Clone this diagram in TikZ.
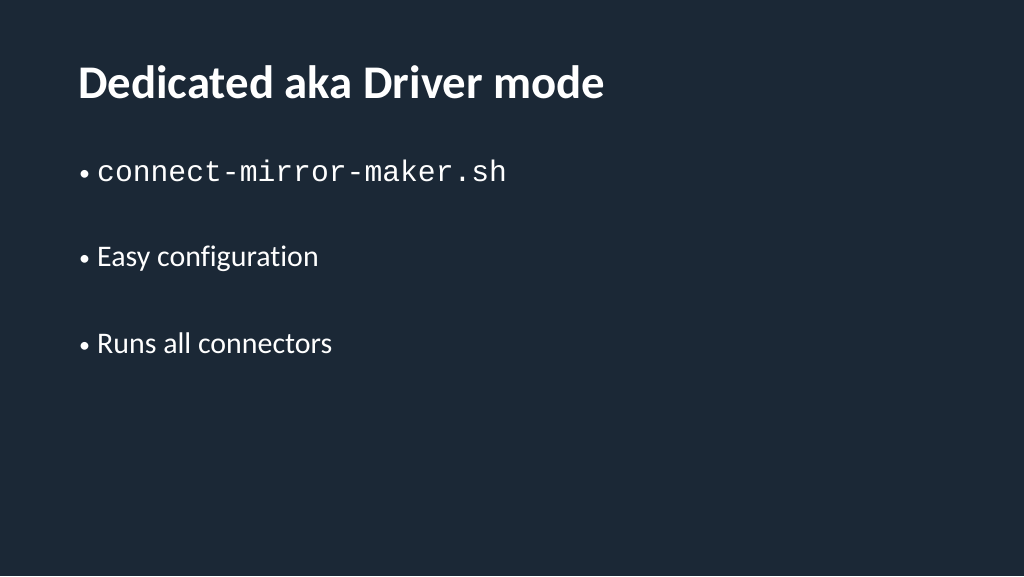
\documentclass[tikz,border=0pt]{standalone}
\usepackage{fontspec}
\setmainfont{Carlito}[Ligatures={NoCommon}]
\setmonofont{Liberation Mono}
\definecolor{bg}{HTML}{1B2836}
\begin{document}
\begin{tikzpicture}[x=1pt,y=1pt,
  txt/.style={text=white,inner sep=0pt,anchor=base west},
  title/.style={txt,font=\bfseries\fontsize{46.8}{54}\selectfont},
  item/.style={txt,font=\fontsize{29.9}{35}\selectfont},
  code/.style={txt,font=\ttfamily\fontsize{29.7}{34}\selectfont},
  dot/.style={txt,font=\fontsize{22}{26}\selectfont}]
\fill[bg] (0,0) rectangle (1024,576);
\useasboundingbox (0,0) rectangle (1024,576);
\node[title] (t) at (78,477) {Dedicated aka Driver mode};
\node[dot] (b1) at (79,395) {•};
\node[code] (i1) at (97,394) {connect-mirror-maker.sh};
\node[dot] (b2) at (79,310) {•};
\node[item] (i2) at (97,309) {Easy configuration};
\node[dot] (b3) at (79,224) {•};
\node[item] (i3) at (97,223) {Runs all connectors};
\end{tikzpicture}
\end{document}
